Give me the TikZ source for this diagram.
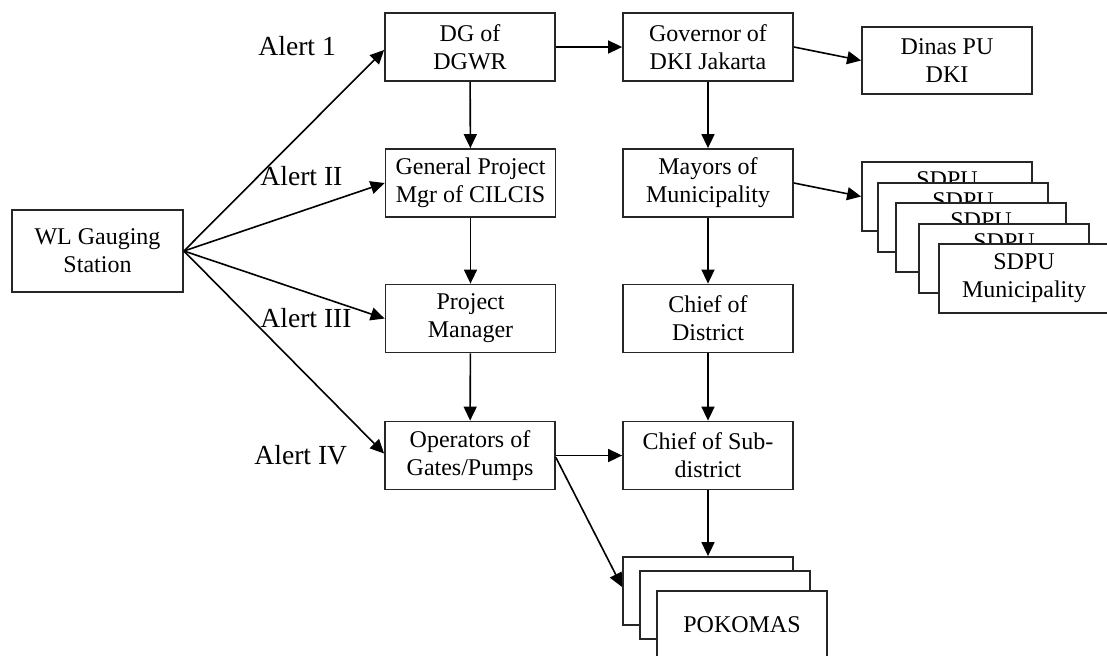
\documentclass[tikz,border=0pt]{standalone}
\usepackage{fontspec}
\setmainfont{Liberation Serif}
\usetikzlibrary{arrows.meta}
\begin{document}
\begin{tikzpicture}[x=0.5pt,y=-0.5pt,
  box/.style={draw=black!85,line width=0.9pt,fill=white,minimum width=85pt,minimum height=34pt,inner sep=0pt,align=center,font=\fontsize{12}{14}\selectfont},
  albl/.style={anchor=base west,inner sep=0pt,font=\fontsize{13.8}{16}\selectfont},
  arr/.style={line width=0.8pt,-{Triangle[length=7pt,width=6.5pt]}}]
\useasboundingbox (0,0) rectangle (1107,655);
\clip (0,0) rectangle (1107,655);
% left
\node[box,minimum width=85.5pt,minimum height=41pt] (wl) at (97.5,251) {WL Gauging\\Station};
% column 1
\node[box] (dg) at (470,47) {DG of\\DGWR};
\node[box] (gpm) at (470.5,183) {General Project\\Mgr of CILCIS};
\node[box] (pm) at (470.5,318.5) {Project\\Manager};
\node[box] (ops) at (470,455.5) {Operators of\\Gates/Pumps};
% column 2
\node[box] (gov) at (708,47) {Governor of\\DKI Jakarta};
\node[box] (may) at (708,183) {Mayors of\\Municipality};
\node[box] (cod) at (708,318.5) {Chief of\\District};
\node[box] (cosd) at (708,455.5) {Chief of Sub-\\district};
% right
\node[box,minimum height=33.5pt] (dinas) at (947,60.5) {Dinas PU\\DKI};
% SDPU stack
\node[box,minimum height=34.5pt] (s1) at (947,196.5) {SDPU\\Municipality};
\node[box,minimum height=34.5pt] (s2) at (963,217.5) {SDPU\\Municipality};
\node[box,minimum height=34.5pt] (s3) at (981,237.5) {SDPU\\Municipality};
\node[box,minimum height=34.5pt] (s4) at (1004,258.5) {SDPU\\Municipality};
\node[box,minimum height=34.5pt] (s5) at (1024,278.5) {SDPU\\Municipality};
% POKOMAS stack
\node[box] (p1) at (708,591) {};
\node[box] (p2) at (725,605) {};
\node[box] (p3) at (742,625) {POKOMAS};
% alert labels
\node[albl] (a1) at (258,55) {Alert 1};
\node[albl] (a2) at (260,185) {Alert II};
\node[albl] (a3) at (260,327) {Alert III};
\node[albl] (a4) at (254,464) {Alert IV};
% connectors
\coordinate (fan) at (wl.east);
\draw[arr] (fan) -- ([yshift=-1.5pt]dg.west);
\draw[arr] (fan) -- (gpm.west);
\draw[arr] (fan) -- (pm.west);
\draw[arr] (fan) -- ([yshift=1pt]ops.west);
\draw[arr] (dg) -- (gpm);
\draw[arr] (gpm) -- (pm);
\draw[arr] (pm) -- (ops);
\draw[arr] (gov) -- (may);
\draw[arr] (may) -- (cod);
\draw[arr] (cod) -- (cosd);
\draw[arr] (dg) -- (gov);
\draw[arr] (gov.east) -- (dinas.west);
\draw[arr] (may.east) -- (s1.west);
\draw[arr] (ops) -- (cosd);
\draw[arr] ([yshift=-1pt]ops.east) -- ([yshift=2pt]p1.west);
\draw[arr] (cosd) -- (p1);
\end{tikzpicture}
\end{document}
